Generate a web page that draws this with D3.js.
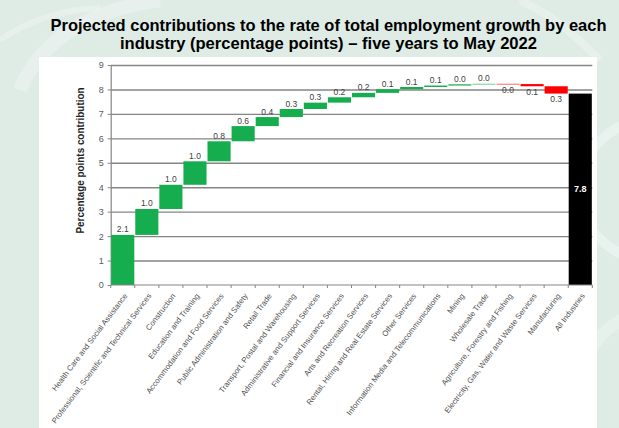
<!DOCTYPE html>
<html>
<head>
<meta charset="utf-8">
<script src="https://cdn.jsdelivr.net/npm/d3@7/dist/d3.min.js"></script>
<style>
  html, body { margin: 0; padding: 0; background: #fff; }
  svg { display: block; font-family: "Liberation Sans", Arial, sans-serif; }
</style>
</head>
<body>
<svg id="chart" width="619" height="428"></svg>
<script>
// ---- Data ----
const categories = [
  "Health Care and Social Assistance",
  "Professional, Scientific and Technical Services",
  "Construction",
  "Education and Training",
  "Accommodation and Food Services",
  "Public Administration and Safety",
  "Retail Trade",
  "Transport, Postal and Warehousing",
  "Administrative and Support Services",
  "Financial and Insurance Services",
  "Arts and Recreation Services",
  "Rental, Hiring and Real Estate Services",
  "Other Services",
  "Information Media and Telecommunications",
  "Mining",
  "Wholesale Trade",
  "Agriculture, Forestry and Fishing",
  "Electricity, Gas, Water and Waste Services",
  "Manufacturing"
];
const contributions = [2.05, 1.06, 0.99, 0.96, 0.82, 0.62, 0.37, 0.33, 0.26, 0.22, 0.18, 0.15, 0.09, 0.06, 0.05, 0.02, -0.01, -0.09, -0.30];
const contributionLabels = ["2.1","1.0","1.0","1.0","0.8","0.6","0.4","0.3","0.3","0.2","0.2","0.1","0.1","0.1","0.0","0.0","0.0","0.1","0.3"];
const totalCategory = "All Industries";
const totalValue = 7.83;
const totalLabel = "7.8";
const yTicks = [0, 1, 2, 3, 4, 5, 6, 7, 8, 9];
const titleLines = [
  "Projected contributions to the rate of total employment growth by each",
  "industry (percentage points) \u2013 five years to May 2022"
];
const yAxisTitle = "Percentage points contribution";

// ---- Build waterfall rows ----
let running = 0;
const rows = categories.map((c, i) => {
  const start = running;
  running += contributions[i];
  return { cat: c, start, end: running, value: contributions[i], label: contributionLabels[i], type: contributions[i] >= 0 ? "pos" : "neg" };
});
rows.push({ cat: totalCategory, start: 0, end: totalValue, value: totalValue, label: totalLabel, type: "total" });

const colors = { pos: "#16ad4e", neg: "#ff0000", total: "#000000" };

const svg = d3.select("#chart");

// ---- Background ----
svg.append("rect").attr("width", 619).attr("height", 428).attr("fill", "#dfece6");
const deco = svg.append("g").attr("fill", "none").attr("stroke", "#f2f8f5");
deco.append("path").attr("d", "M20,90 C40,40 90,10 160,0").attr("stroke-width", 14).attr("opacity", 0.4);
deco.append("path").attr("d", "M0,40 C30,20 60,10 100,8").attr("stroke-width", 6).attr("opacity", 0.4);
deco.append("circle").attr("cx", 650).attr("cy", 190).attr("r", 70).attr("stroke-width", 10).attr("opacity", 0.5);
deco.append("circle").attr("cx", 660).attr("cy", 390).attr("r", 80).attr("stroke-width", 12).attr("opacity", 0.45);
deco.append("path").attr("d", "M600,60 C560,20 540,10 520,0").attr("stroke-width", 8).attr("opacity", 0.4);

// White panel
svg.append("rect").attr("x", 39).attr("y", 57).attr("width", 558).attr("height", 371).attr("fill", "#ffffff");

// ---- Title ----
const titleG = svg.append("g").attr("font-weight", "bold").attr("font-size", 16.5).attr("fill", "#000");
const titleWidths = [556, 417];
const titleY = [30.5, 48.5];
titleLines.forEach((t, i) => {
  titleG.append("text")
    .attr("x", 328.5).attr("y", titleY[i])
    .attr("text-anchor", "middle")
    .attr("textLength", titleWidths[i])
    .attr("lengthAdjust", "spacingAndGlyphs")
    .text(t);
});

// ---- Scales ----
const x = d3.scaleBand()
  .domain(rows.map(r => r.cat))
  .range([110.7, 592.3])
  .paddingInner(0.04)
  .paddingOuter(0.02);
const y = d3.scaleLinear().domain([0, 9]).range([285, 65]);

// Gridlines
const grid = svg.append("g").attr("transform", "translate(110.7,0)")
  .call(d3.axisLeft(y).tickValues(yTicks.filter(v => v > 0)).tickSize(-481.6).tickFormat(""));
grid.select(".domain").remove();
grid.selectAll("line").attr("stroke", "#858585").attr("stroke-width", 1.4);

// Y axis
const yAxis = svg.append("g").attr("transform", "translate(110.7,0)")
  .call(d3.axisLeft(y).tickValues(yTicks).tickSize(3).tickSizeOuter(0).tickPadding(4).tickFormat(d3.format("d")));
yAxis.select(".domain").attr("stroke", "#858585").attr("stroke-width", 1.2);
yAxis.selectAll(".tick line").attr("stroke", "#858585");
yAxis.selectAll(".tick text").attr("fill", "#595959").attr("font-size", 9).attr("font-family", "Liberation Sans, Arial, sans-serif");

// Y axis title
svg.append("text")
  .attr("transform", "translate(84,160.5) rotate(-90)")
  .attr("text-anchor", "middle")
  .attr("font-weight", "bold")
  .attr("font-size", 11)
  .attr("fill", "#222")
  .attr("textLength", 146)
  .attr("lengthAdjust", "spacingAndGlyphs")
  .text(yAxisTitle);

// ---- Bars ----
svg.append("g").selectAll("rect").data(rows).join("rect")
  .attr("x", d => x(d.cat))
  .attr("width", x.bandwidth())
  .attr("y", d => y(Math.max(d.start, d.end)))
  .attr("height", d => Math.max(0.6, Math.abs(y(d.start) - y(d.end))))
  .attr("fill", d => colors[d.type]);

// X axis line and ticks at band boundaries
const xAxisG = svg.append("g");
xAxisG.append("line")
  .attr("x1", x.range()[0]).attr("x2", x.range()[1])
  .attr("y1", y(0)).attr("y2", y(0))
  .attr("stroke", "#858585").attr("stroke-width", 1.2);
xAxisG.selectAll("line.tick").data(d3.range(rows.length + 1)).join("line")
  .attr("class", "tick")
  .attr("x1", i => x.range()[0] + i * x.step())
  .attr("x2", i => x.range()[0] + i * x.step())
  .attr("y1", y(0)).attr("y2", y(0) + 3)
  .attr("stroke", "#858585");

// X labels
svg.append("g").selectAll("text").data(rows).join("text")
  .attr("transform", d => `translate(${x(d.cat) + x.bandwidth() / 2 + 5},296) rotate(-53)`)
  .attr("text-anchor", "end")
  .attr("font-size", 7.8)
  .attr("fill", "#505050")
  .text(d => d.cat);

// Data labels
svg.append("g").selectAll("text").data(rows.filter(r => r.type !== "total")).join("text")
  .attr("x", d => x(d.cat) + x.bandwidth() / 2)
  .attr("y", d => d.type === "pos" ? y(d.end) - 2.5 : y(d.end) + 8.5)
  .attr("text-anchor", "middle")
  .attr("font-size", 8.5)
  .attr("fill", "#404040")
  .text(d => d.label);

const tot = rows[rows.length - 1];
svg.append("text")
  .attr("x", x(tot.cat) + x.bandwidth() / 2)
  .attr("y", y(tot.end / 2) + 3)
  .attr("text-anchor", "middle")
  .attr("font-size", 9)
  .attr("font-weight", "bold")
  .attr("fill", "#ffffff")
  .text(tot.label);
</script>
</body>
</html>
